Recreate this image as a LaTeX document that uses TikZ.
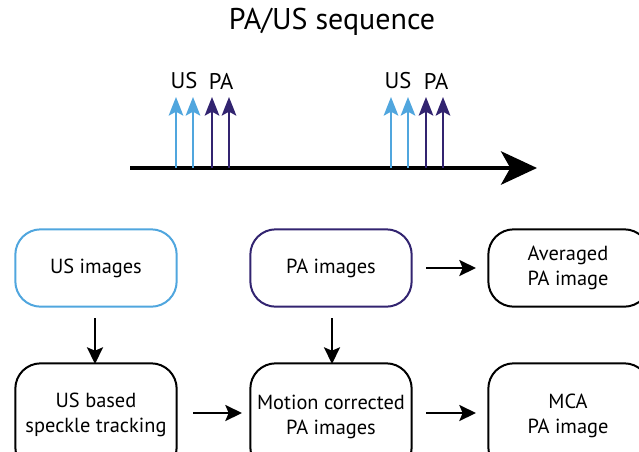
\documentclass[tikz,border=0pt]{standalone}
\usepackage{fontspec}
\setmainfont{PT Sans}
\usetikzlibrary{arrows.meta}
\definecolor{usblue}{RGB}{80,166,222}
\definecolor{papurple}{RGB}{50,36,112}
\begin{document}
\begin{tikzpicture}[x=0.75pt,y=-0.75pt,
  box/.style={draw, line width=1.5pt, rounded corners=19pt, minimum width=121pt, minimum height=58pt, align=center, font=\fontsize{15.3}{19}\selectfont, inner sep=0pt},
  btxt/.style={inner sep=0pt, align=center, font=\fontsize{15.3}{19}\selectfont},
  conn/.style={line width=1.5pt, -{Stealth[length=12.5pt,width=12pt,inset=2.5pt]}},
  pulse/.style={line width=1.5pt, -{Stealth[length=14pt,width=11pt,inset=3pt]}},
  lbl/.style={font=\fontsize{17}{20}\selectfont, inner sep=0pt}]
\useasboundingbox (0,0) rectangle (639,451);
\clip (0,0) rectangle (639,451);
\node[inner sep=0pt, font=\fontsize{22.5}{26}\selectfont] (title) at (332,22) {PA/US sequence};
% timeline
\coordinate (t0) at (130,168);
\coordinate (t1) at (537,168);
\draw[line width=3pt, -{Stealth[length=27pt,width=25pt,inset=7pt]}] (t0) -- (t1);
\foreach \x/\c [count=\i] in {176/usblue,193/usblue,212/papurple,229/papurple,391/usblue,408/usblue,426/papurple,443/papurple}{
  \coordinate (pb\i) at (\x,168);
  \coordinate (pt\i) at (\x,97);
  \draw[pulse, draw=\c, fill=\c] (pb\i) -- (pt\i);
}
\node[lbl] (us1) at (184,81) {US};
\node[lbl] (pa1) at (221,81) {PA};
\node[lbl] (us2) at (398,81) {US};
\node[lbl] (pa2) at (436,81) {PA};
% boxes
\node[box, draw=usblue] (usimg) at (96,268) {US images};
\node[box, draw=papurple] (paimg) at (331,268) {PA images};
\node[box] (avg) at (569,268) {};
\node[btxt] (avgtxt) at (568,268) {Averaged\\PA image};
\node[box, minimum height=82pt] (speckle) at (96,418) {};
\node[box, minimum height=82pt] (motion) at (331,418) {};
\node[box, minimum height=82pt] (mca) at (569,418) {};
\node[btxt] (speckletxt) at (96,415) {US based\\speckle tracking};
\node[btxt] (motiontxt) at (331,417) {Motion corrected\\PA images};
\node[btxt] (mcatxt) at (568,416) {MCA\\PA image};
% connectors
\coordinate (a1s) at (95,318);
\coordinate (a1e) at (95,364);
\draw[conn] (a1s) -- (a1e);
\coordinate (a2s) at (332,318);
\coordinate (a2e) at (332,364);
\draw[conn] (a2s) -- (a2e);
\coordinate (a3s) at (426,268);
\coordinate (a3e) at (476,268);
\draw[conn] (a3s) -- (a3e);
\coordinate (a4s) at (193,413);
\coordinate (a4e) at (242,413);
\draw[conn] (a4s) -- (a4e);
\coordinate (a5s) at (426,413);
\coordinate (a5e) at (476,413);
\draw[conn] (a5s) -- (a5e);
\end{tikzpicture}
\end{document}
